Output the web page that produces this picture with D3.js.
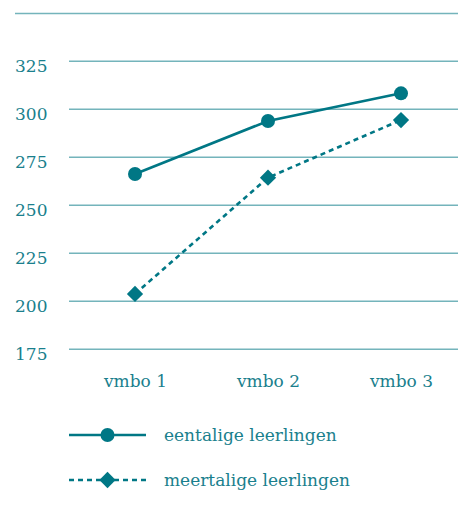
<!DOCTYPE html>
<html><head><meta charset="utf-8">
<script src="https://cdn.jsdelivr.net/npm/d3@7"></script>
<style>body{margin:0;background:#fff}svg{display:block}</style>
</head><body>
<svg id="c" width="458" height="515"></svg>
<script>
const categories = ["vmbo 1", "vmbo 2", "vmbo 3"];
const eentalig = [266, 293.6, 308];
const meertalig = [203.5, 264.1, 294.1];
const yTicks = [175, 200, 225, 250, 275, 300, 325];
const seriesNames = ["eentalige leerlingen", "meertalige leerlingen"];

const dark = "#007785", grid = "#74b4bb", txt = "#1a7f8d";
const font = "'DejaVu Serif', serif";
const fs = "17px";
const svg = d3.select("#c");
const x = d3.scalePoint().domain(categories).range([135, 401]);
const y = d3.scaleLinear().domain([175, 325]).range([348.7, 60.7]);

// top border line
svg.append("line").attr("x1", 15).attr("x2", 458).attr("y1", 13.5).attr("y2", 13.5)
  .attr("stroke", grid).attr("stroke-width", 1.5);

const yAxis = svg.append("g").attr("transform", "translate(69,0)")
  .call(d3.axisLeft(y).tickValues(yTicks).tickSize(-389).tickPadding(0));
yAxis.select(".domain").remove();
yAxis.selectAll(".tick line").attr("stroke", grid).attr("stroke-width", 1.5);
yAxis.selectAll(".tick text").attr("x", -54).attr("dy", "11px").attr("text-anchor", "start")
  .attr("fill", txt).style("font-family", font).style("font-size", fs);

const xAxis = svg.append("g").attr("transform", "translate(0,386.5)")
  .call(d3.axisBottom(x).tickSize(0).tickPadding(0));
xAxis.select(".domain").remove();
xAxis.selectAll(".tick text").attr("dy", 0).attr("y", 0).attr("fill", txt)
  .style("font-family", font).style("font-size", fs);

const line = d3.line().x((d, i) => x(categories[i])).y(d => y(d));
svg.append("path").datum(eentalig).attr("d", line).attr("fill", "none")
  .attr("stroke", dark).attr("stroke-width", 2.6);
svg.append("path").datum(meertalig).attr("d", line).attr("fill", "none")
  .attr("stroke", dark).attr("stroke-width", 2.6).attr("stroke-dasharray", "5,4");

const circ = d3.symbol().type(d3.symbolCircle).size(Math.PI * 7 * 7);
const diam = d3.symbol().type(d3.symbolSquare).size(11.5 * 11.5);
svg.selectAll(".c1").data(eentalig).join("path")
  .attr("d", circ).attr("fill", dark)
  .attr("transform", (d, i) => `translate(${x(categories[i])},${y(d)})`);
svg.selectAll(".c2").data(meertalig).join("path")
  .attr("d", diam).attr("fill", dark)
  .attr("transform", (d, i) => `translate(${x(categories[i])},${y(d)}) rotate(45)`);

// legend
const leg = [{y: 435, dash: null, sym: circ, rot: 0}, {y: 480, dash: "5,4", sym: diam, rot: 45}];
leg.forEach((l, i) => {
  svg.append("line").attr("x1", 69).attr("x2", 146).attr("y1", l.y).attr("y2", l.y)
    .attr("stroke", dark).attr("stroke-width", 2.6).attr("stroke-dasharray", l.dash);
  svg.append("path").attr("d", l.sym).attr("fill", dark)
    .attr("transform", `translate(107.5,${l.y}) rotate(${l.rot})`);
  svg.append("text").attr("x", 164).attr("y", l.y + 5.5).text(seriesNames[i])
    .attr("fill", txt).style("font-family", font).style("font-size", fs);
});
</script>
</body></html>
